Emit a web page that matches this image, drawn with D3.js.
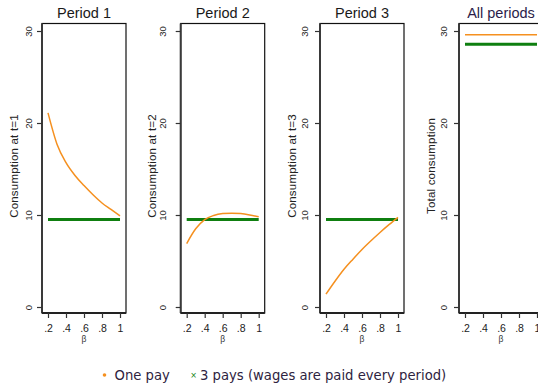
<!DOCTYPE html>
<html>
<head>
<meta charset="utf-8">
<script src="https://cdn.jsdelivr.net/npm/d3@7"></script>
<style>
  body { margin: 0; background: #fff; }
  svg { display: block; font-family: "Liberation Sans", Arial, sans-serif; }
</style>
</head>
<body>
<svg id="chart" width="538" height="387"></svg>
<script>
// Discount factor grid
const betas = [0.2, 0.3, 0.4, 0.5, 0.6, 0.7, 0.8, 0.9, 1.0];

// One pay (lump-sum wage) consumption by period
const onePayP1 = [21.1, 17.7, 15.7, 14.3, 13.2, 12.2, 11.3, 10.6, 9.9];
const onePayP2 = [6.9, 8.5, 9.5, 9.95, 10.15, 10.2, 10.15, 10.0, 9.8];
const onePayP3 = [1.4, 2.8, 4.1, 5.2, 6.25, 7.2, 8.1, 8.95, 9.75];
const onePayAll = [29.6, 29.6, 29.6, 29.6, 29.6, 29.6, 29.6, 29.6, 29.6];

// Three pays (wage paid every period)
const threePayP1 = [9.52, 9.52, 9.52, 9.52, 9.52, 9.52, 9.52, 9.52, 9.52];
const threePayP2 = [9.52, 9.52, 9.52, 9.52, 9.52, 9.52, 9.52, 9.52, 9.52];
const threePayP3 = [9.52, 9.52, 9.52, 9.52, 9.52, 9.52, 9.52, 9.52, 9.52];
const threePayAll = [28.55, 28.55, 28.55, 28.55, 28.55, 28.55, 28.55, 28.55, 28.55];

const panelTitles = ["Period 1", "Period 2", "Period 3", "All periods"];
const yTitles = ["Consumption at t=1", "Consumption at t=2", "Consumption at t=3", "Total consumption"];
const yTicks = [0, 10, 20, 30];
const xTicks = [0.2, 0.4, 0.6, 0.8, 1];
const xTickLabels = [".2", ".4", ".6", ".8", "1"];
const xTitle = "\u03b2";
const legendLabels = ["One pay", "3 pays (wages are paid every period)"];

const onePaySeries = [onePayP1, onePayP2, onePayP3, onePayAll];
const threePaySeries = [threePayP1, threePayP2, threePayP3, threePayAll];

// Layout
const panelLeft = [42, 180.7, 320, 459];
const panelW = 84;
const plotTop = 23.5, plotBottom = 313;
const labelGap = [10.5, 14.5, 11.7, 12.5];
const orange = "#f5901f", green = "#0f7f10";
const ink = "#222";

const svg = d3.select("#chart");

const y = d3.scaleLinear().domain([0, 30]).range([307, 31]);

panelTitles.forEach((title, i) => {
  const x0 = panelLeft[i];
  const x = d3.scaleLinear().domain([0.2, 1]).range([x0 + 6, x0 + 78]);
  const g = svg.append("g");

  // Plot region outline
  g.append("rect")
    .attr("x", x0).attr("y", plotTop)
    .attr("width", panelW).attr("height", plotBottom - plotTop)
    .attr("fill", "none").attr("stroke", "#111").attr("stroke-width", 1.2);

  // Y axis
  const ya = g.append("g").attr("transform", `translate(${x0},0)`)
    .call(d3.axisLeft(y).tickValues(yTicks).tickSize(5).tickSizeOuter(0).tickFormat(d3.format("d")));
  ya.select(".domain").attr("stroke", "#3a3a3a").attr("stroke-width", 2)
    .attr("d", `M0,${plotTop}V${plotBottom}`);
  ya.selectAll(".tick line").attr("stroke", "#333").attr("stroke-width", 1.2);
  ya.selectAll(".tick text")
    .attr("transform", "rotate(-90)")
    .attr("x", 0).attr("y", -labelGap[i]).attr("dy", 0)
    .attr("text-anchor", "middle")
    .attr("fill", ink).attr("font-size", 9.5);

  // X axis
  const xa = g.append("g").attr("transform", `translate(0,${plotBottom})`)
    .call(d3.axisBottom(x).tickValues(xTicks).tickSize(5).tickSizeOuter(0)
      .tickFormat((d, k) => xTickLabels[k]));
  xa.select(".domain").attr("stroke", "#222").attr("stroke-width", 2)
    .attr("d", `M${x0},0H${x0 + panelW}`);
  xa.selectAll(".tick line").attr("stroke", "#333").attr("stroke-width", 1.2);
  xa.selectAll(".tick text").attr("y", 18.5).attr("dy", 0)
    .attr("fill", ink).attr("font-size", 10.5);

  // Axis titles
  g.append("text")
    .attr("transform", `translate(${x0 - 24.5},166) rotate(-90)`)
    .attr("text-anchor", "middle")
    .attr("font-size", 11.5).attr("letter-spacing", 0.2).attr("fill", ink)
    .text(yTitles[i]);
  g.append("text")
    .attr("x", x(0.6)).attr("y", 341.5)
    .attr("text-anchor", "middle")
    .attr("font-size", 8.5).attr("fill", "#333")
    .text(xTitle);

  // Panel title
  g.append("text")
    .attr("x", x0 + panelW / 2).attr("y", 18)
    .attr("text-anchor", "middle")
    .attr("font-size", 14.5)
    .attr("fill", i === 3 ? "#2b1d4a" : "#1a1a1a")
    .text(title);

  const line = d3.line()
    .x((d, k) => x(betas[k]))
    .y(d => y(d))
    .curve(d3.curveMonotoneX);

  g.append("path").datum(threePaySeries[i])
    .attr("d", line).attr("fill", "none")
    .attr("stroke", green).attr("stroke-width", 3);
  g.append("path").datum(onePaySeries[i])
    .attr("d", line).attr("fill", "none")
    .attr("stroke", orange).attr("stroke-width", 1.5);
});

// Legend
const lg = svg.append("g")
  .attr("font-family", "'DejaVu Sans', Verdana, sans-serif")
  .attr("font-size", 13.2).attr("fill", "#2e2340");
lg.append("circle").attr("cx", 104.5).attr("cy", 375).attr("r", 1.8).attr("fill", orange);
lg.append("text").attr("x", 114.5).attr("y", 379.5).text(legendLabels[0]);
lg.append("text").attr("x", 193.5).attr("y", 378).attr("text-anchor", "middle")
  .attr("font-size", 8).attr("fill", green).text("\u00d7");
lg.append("text").attr("x", 200).attr("y", 379.5).text(legendLabels[1]);
</script>
</body>
</html>
